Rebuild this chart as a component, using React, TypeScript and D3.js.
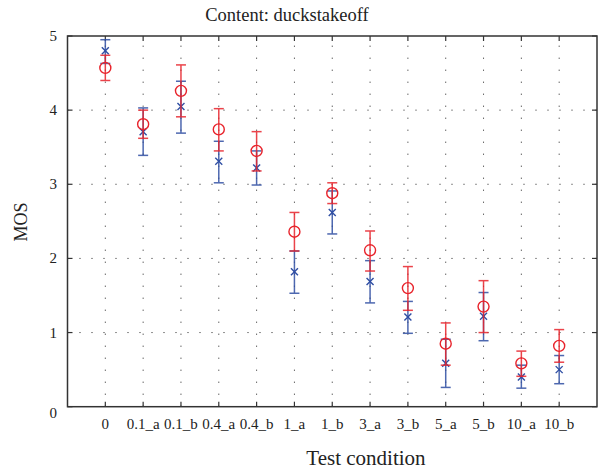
import React from "react";
import * as d3 from "d3";

const categories = ["0", "0.1_a", "0.1_b", "0.4_a", "0.4_b", "1_a", "1_b", "3_a", "3_b", "5_a", "5_b", "10_a", "10_b"];
const redMean = [4.57, 3.81, 4.26, 3.74, 3.45, 2.36, 2.88, 2.11, 1.60, 0.85, 1.35, 0.585, 0.82];
const redLow = [4.40, 3.62, 3.91, 3.45, 3.18, 2.10, 2.74, 1.83, 1.30, 0.56, 1.00, 0.41, 0.60];
const redHigh = [4.74, 4.00, 4.61, 4.02, 3.71, 2.62, 3.02, 2.37, 1.89, 1.13, 1.70, 0.75, 1.04];
const blueMean = [4.80, 3.71, 4.05, 3.31, 3.22, 1.82, 2.62, 1.69, 1.21, 0.585, 1.22, 0.40, 0.50];
const blueLow = [4.63, 3.39, 3.69, 3.02, 2.99, 1.53, 2.33, 1.40, 0.99, 0.26, 0.89, 0.25, 0.31];
const blueHigh = [4.95, 4.03, 4.39, 3.58, 3.45, 2.10, 2.91, 1.97, 1.42, 0.91, 1.54, 0.56, 0.69];
const yTicks = [0, 1, 2, 3, 4, 5];

const W = 598, H = 473;
const L = 67.5, R = 597, T = 36, B = 406.7;
const RED = "#e8232b";
const BLUE = "#2f4ea3";
const FONT = "Liberation Serif, Times New Roman, DejaVu Serif, serif";

export default function App() {
  const x = d3.scaleLinear().domain([0, 14]).range([L, R]);
  const y = d3.scaleLinear().domain([0, 5]).range([B, T]);
  const cap = 5;

  const errBar = (i: number, lo: number, hi: number, color: string) => {
    const cx = x(i + 1);
    return (
      <g key={`${color}-${i}`} stroke={color} strokeWidth={1.5} opacity={0.85}>
        <line x1={cx} x2={cx} y1={y(lo)} y2={y(hi)} />
        <line x1={cx - cap} x2={cx + cap} y1={y(lo)} y2={y(lo)} />
        <line x1={cx - cap} x2={cx + cap} y1={y(hi)} y2={y(hi)} />
      </g>
    );
  };

  const txt = { fontFamily: FONT, fill: "#222" } as React.CSSProperties;

  return (
    <svg width={W} height={H} style={{ position: "absolute", left: 0, top: 0 }}>
      <rect width={W} height={H} fill="white" />
      {/* grid */}
      <g stroke="#222" strokeWidth={1} strokeDasharray="1,11">
        {categories.map((c, i) => (
          <line key={c} x1={x(i + 1)} x2={x(i + 1)} y1={B} y2={T} />
        ))}
        {yTicks.slice(1, 5).map((t) => (
          <line key={t} x1={L} x2={R} y1={y(t)} y2={y(t)} />
        ))}
      </g>
      {/* ticks */}
      <g stroke="#333" strokeWidth={1.2}>
        {categories.map((c, i) => (
          <g key={c}>
            <line x1={x(i + 1)} x2={x(i + 1)} y1={B} y2={B - 5} />
            <line x1={x(i + 1)} x2={x(i + 1)} y1={T} y2={T + 5} />
          </g>
        ))}
        {yTicks.map((t) => (
          <g key={t}>
            <line x1={L} x2={L + 5} y1={y(t)} y2={y(t)} />
            <line x1={R} x2={R - 5} y1={y(t)} y2={y(t)} />
          </g>
        ))}
      </g>
      {/* frame */}
      <rect x={L} y={T} width={R - L} height={B - T} fill="none" stroke="#333" strokeWidth={1.5} />
      {/* blue series */}
      {blueMean.map((m, i) => errBar(i, blueLow[i], blueHigh[i], BLUE))}
      {blueMean.map((m, i) => {
        const cx = x(i + 1), cy = y(m), s = 3.5;
        return (
          <g key={`bx${i}`} stroke={BLUE} strokeWidth={1.4}>
            <line x1={cx - s} x2={cx + s} y1={cy - s} y2={cy + s} />
            <line x1={cx - s} x2={cx + s} y1={cy + s} y2={cy - s} />
          </g>
        );
      })}
      {/* red series */}
      {redMean.map((m, i) => errBar(i, redLow[i], redHigh[i], RED))}
      {redMean.map((m, i) => (
        <circle key={`rc${i}`} cx={x(i + 1)} cy={y(m)} r={5.5} fill="none" stroke={RED} strokeWidth={1.4} />
      ))}
      {/* tick labels */}
      <g style={{ ...txt, fontSize: 15 }}>
        {yTicks.map((t) => (
          <text key={t} x={57} y={y(t) + (t === 0 ? 11 : 5)} textAnchor="end">{t}</text>
        ))}
        {categories.map((c, i) => (
          <text key={c} x={x(i + 1)} y={429} textAnchor="middle">{c}</text>
        ))}
      </g>
      <text x={287} y={21} textAnchor="middle" style={{ ...txt, fontSize: 18.5 }}>Content: duckstakeoff</text>
      <text x={366} y={465} textAnchor="middle" style={{ ...txt, fontSize: 21 }}>Test condition</text>
      <text transform={`translate(27,222) rotate(-90)`} textAnchor="middle" style={{ ...txt, fontSize: 18 }}>MOS</text>
    </svg>
  );
}
